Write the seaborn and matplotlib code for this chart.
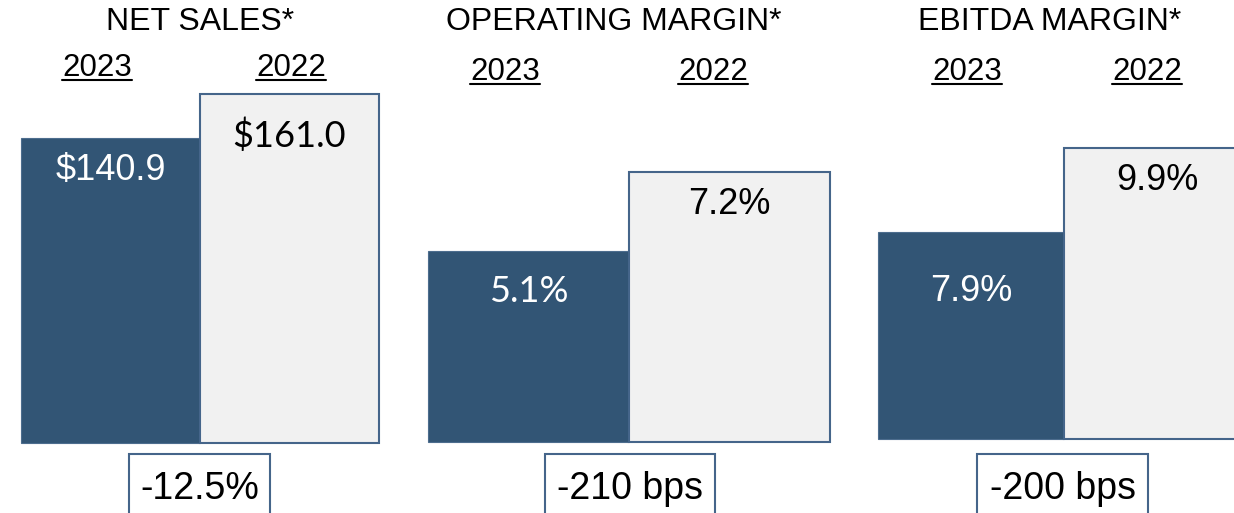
import matplotlib
matplotlib.use("Agg")
import matplotlib.pyplot as plt
import seaborn as sns
from matplotlib.patches import Rectangle
from matplotlib.lines import Line2D

sns.set_theme(style="white")
plt.rcParams['font.family'] = ['Liberation Sans', 'DejaVu Sans']

# Data
titles = ["NET SALES*", "OPERATING MARGIN*", "EBITDA MARGIN*"]
years = ["2023", "2022"]
values = [[140.9, 161.0], [5.1, 7.2], [7.9, 9.9]]
value_labels = [["$140.9", "$161.0"], ["5.1%", "7.2%"], ["7.9%", "9.9%"]]
changes = ["-12.5%", "-210 bps", "-200 bps"]
y_base = [0, 0, 3.0]

DARK = "#325575"
LIGHT = "#F1F1F1"
EDGE = "#45658A"

W, H = 1234, 513
fig = plt.figure(figsize=(W / 100, H / 100), dpi=100)

def px(x0, y0, x1, y1):
    # pixel box (top-left origin) -> figure fraction rect
    return [x0 / W, 1 - y1 / H, (x1 - x0) / W, (y1 - y0) / H]

# layout in pixels: bar area left/right, tall bar top, baseline
panels = [(21, 379, 94, 443), (428, 830, 172, 442), (878, 1250, 148, 439)]
title_x = [200, 614, 1050]
year_x = [(97, 291), (505, 713), (967, 1147)]
year_y = [68, 72, 72]
label_off = [(-33, -42), (-41, -33), (-59, -33)]
box_x = [(129, 270), (545, 715), (977, 1148)]
label_fonts = [["Liberation Sans", "Lato"], ["Lato", "Liberation Sans"],
               ["Liberation Sans", "Liberation Sans"]]
PAD = 3  # px of room around the bars so the edges are not clipped

year_texts = []
for i in range(3):
    x0, x1, ytop, ybot = panels[i]
    yscale = (ybot - ytop) / (max(values[i]) - y_base[i])
    xscale = (x1 - x0) / 2
    ax = fig.add_axes(px(x0 - PAD, ytop - PAD, x1 + PAD, ybot + PAD))
    sns.barplot(x=years, y=values[i], hue=years, palette=[DARK, LIGHT],
                width=1.0, ax=ax, legend=False, saturation=1)
    ax.set_xlim(-0.5 - PAD / xscale, 1.5 + PAD / xscale)
    ax.set_ylim(y_base[i] - PAD / yscale, max(values[i]) + PAD / yscale)
    ax.axis("off")
    for j, p in enumerate(ax.patches):
        if j == 0:
            p.set_edgecolor("#4D6D8E")
            p.set_linewidth(0.8)
        else:
            p.set_edgecolor(EDGE)
            p.set_linewidth(1.5)
        # bars start from the axis floor, not from zero
        p.set_y(y_base[i])
        p.set_height(values[i][j] - y_base[i])
        ax.annotate(value_labels[i][j], xy=(j, values[i][j]),
                    xytext=(0, label_off[i][j]), textcoords="offset pixels",
                    ha="center", va="center", fontsize=26,
                    family=[label_fonts[i][j], "DejaVu Sans"],
                    color="white" if j == 0 else "black")

    fig.text(title_x[i] / W, 1 - 22 / H, titles[i], ha="center",
             va="center", fontsize=23, color="black")
    for k, yr in enumerate(years):
        t = fig.text(year_x[i][k] / W, 1 - year_y[i] / H, yr, ha="center",
                     va="center", fontsize=22.5, color="black")
        year_texts.append((t, year_y[i]))

    bx0, bx1 = box_x[i]
    fig.add_artist(Rectangle((bx0 / W, 1 - 530 / H), (bx1 - bx0) / W,
                             (530 - 454) / H, transform=fig.transFigure,
                             facecolor="white", edgecolor=EDGE, lw=1.5))
    fig.text((bx0 + bx1) / 2 / W, 1 - 489 / H, changes[i], ha="center",
             va="center", fontsize=27, color="black")

# underline the year labels
renderer = fig.canvas.get_renderer()
for t, yy in year_texts:
    bb = t.get_window_extent(renderer)
    uy = 1 - (yy + 12) / H
    fig.add_artist(Line2D([bb.x0 / W, bb.x1 / W], [uy, uy],
                          transform=fig.transFigure, color="black", lw=1.5))

fig.savefig("out.png", dpi=100)
